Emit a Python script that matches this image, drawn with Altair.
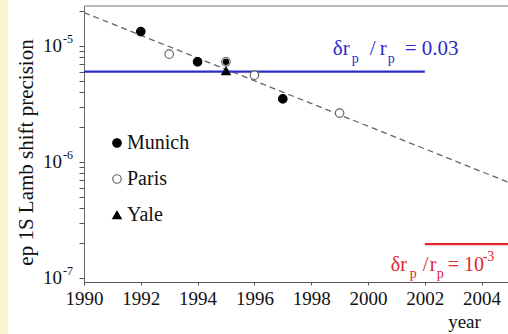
import altair as alt
import pandas as pd

# Lamb shift measurements (year, relative precision)
munich_year = [1992, 1994, 1995, 1997]
munich_prec = [1.33e-5, 7.3e-6, 7.3e-6, 3.5e-6]
paris_year = [1993, 1995, 1996, 1999]
paris_prec = [8.5e-6, 7.3e-6, 5.6e-6, 2.64e-6]
yale_year = [1995]
yale_prec = [6.1e-6]
labs = ["Munich", "Paris", "Yale"]

# dashed trend line
trend_year = [1990, 2005]
trend_prec = [1.94e-5, 6.6e-7]

# proton radius accuracy levels
blue_year = [1990, 2002]
blue_prec = [6.0e-6, 6.0e-6]
red_year = [2002, 2005]
red_prec = [1.96e-7, 1.96e-7]

# annotation anchors (left end of text, baseline)
ann_year = [1998.76, 2000.8]
ann_prec = [8.36e-6, 1.15e-7]

x_ticks = list(range(1990, 2005, 2))
y_ticks = [m * 10.0 ** e for e in (-7, -6) for m in range(1, 10)] + [1e-5, 2e-5]
# decade labels on the y axis: mantissa "10" with a raised exponent
y_label_vals = [1e-5, 1e-6, 1e-7]
y_label_exp = ["-5", "-6", "-7"]

W, H = 424, 276
FONT = "Liberation Serif"
BLUE = "#2c2cc8"
RED = "#e0262f"

xs = alt.Scale(domain=[1990, 2004.93], nice=False, zero=False)
ys = alt.Scale(type="log", domain=[9.25e-8, 2.21e-5], nice=False, zero=False)

x_axis = alt.Axis(
    values=x_ticks, format="d", grid=False, tickSize=3, tickColor="#555",
    domainColor="#555", labelFont=FONT, labelFontSize=19, labelColor="#111",
    labelPadding=4, labelOverlap=False, labelFlush=False,
    title="year", titleFont=FONT, titleFontSize=19,
    titleFontWeight="normal", titleColor="#111", titleX=380, titleY=45,
    titleAlign="center", titleBaseline="alphabetic",
)
y_axis = alt.Axis(
    values=y_ticks, grid=False, tickColor="#555", domainColor="#666", tickSize=5,
    labels=False,
    title="ep 1S Lamb shift precision", titleFont=FONT, titleFontSize=21,
    titleFontWeight="normal", titleColor="#111", titleAngle=270,
    titleX=-52, titleY=146, titleAlign="center", titleBaseline="alphabetic",
)

# yellowish strip at the left edge of the page
strip = alt.Chart(pd.DataFrame({"k": [0]})).mark_rect(color="#fcf4cf", clip=False).encode(
    x=alt.value(-84), x2=alt.value(-76), y=alt.value(-6), y2=alt.value(H + 52)
)
# light frame line along the top of the plot
frame_top = alt.Chart(pd.DataFrame({"k": [0]})).mark_rule(color="#a0a0a0", strokeWidth=1.6).encode(
    x=alt.value(0), x2=alt.value(W), y=alt.value(0)
)

trend = alt.Chart(pd.DataFrame({"year": trend_year, "prec": trend_prec})).mark_line(
    color="#666", strokeDash=[6, 4], strokeWidth=1.3, clip=True
).encode(x=alt.X("year:Q", scale=xs, axis=x_axis), y=alt.Y("prec:Q", scale=ys, axis=y_axis))

blue_line = alt.Chart(pd.DataFrame({"year": blue_year, "prec": blue_prec})).mark_line(
    color=BLUE, strokeWidth=2.2, clip=True
).encode(x=alt.X("year:Q", scale=xs), y=alt.Y("prec:Q", scale=ys))

red_line = alt.Chart(pd.DataFrame({"year": red_year, "prec": red_prec})).mark_line(
    color=RED, strokeWidth=2.2, clip=True
).encode(x=alt.X("year:Q", scale=xs), y=alt.Y("prec:Q", scale=ys))

# y tick labels placed at the left edge of the plot via the y scale
ylab_df = pd.DataFrame({"year": [1990] * len(y_label_vals), "prec": y_label_vals, "exp": y_label_exp})
ylab_mant = alt.Chart(ylab_df).mark_text(
    text="10", align="right", baseline="middle", dx=-22, font=FONT, fontSize=19, color="#111", clip=False
).encode(x=alt.X("year:Q", scale=xs), y=alt.Y("prec:Q", scale=ys))
ylab_exp = alt.Chart(ylab_df).mark_text(
    align="left", baseline="middle", dx=-21, dy=-7, font=FONT, fontSize=12, color="#111", clip=False
).encode(x=alt.X("year:Q", scale=xs), y=alt.Y("prec:Q", scale=ys), text="exp:N")

pts = pd.DataFrame({
    "year": paris_year + munich_year + yale_year,
    "prec": paris_prec + munich_prec + yale_prec,
    "lab": ["Paris"] * len(paris_year) + ["Munich"] * len(munich_year) + ["Yale"] * len(yale_year),
})
leg = alt.Legend(
    title=None, orient="none", legendX=23, legendY=127, labelFont=FONT,
    labelFontSize=20, labelColor="#111", rowPadding=16, labelOffset=0,
    symbolSize=72, symbolStrokeWidth=1.2, padding=0,
)
points = alt.Chart(pts).mark_point(filled=False, strokeWidth=1.2, opacity=1).encode(
    x=alt.X("year:Q", scale=xs),
    y=alt.Y("prec:Q", scale=ys),
    shape=alt.Shape("lab:N", scale=alt.Scale(domain=labs, range=["circle", "circle", "triangle-up"]), legend=leg),
    fill=alt.Fill("lab:N", scale=alt.Scale(domain=labs, range=["#000", "#fff", "#000"]), legend=leg),
    stroke=alt.Stroke("lab:N", scale=alt.Scale(domain=labs, range=["#000", "#666", "#000"]), legend=leg),
    size=alt.condition("datum.lab=='Munich' && datum.year==1995", alt.value(26), alt.value(72)),
)


def label(idx, pieces, color):
    """Build a text label from (text, dx, dy, size) pieces anchored at annotation idx."""
    df = pd.DataFrame({"year": [ann_year[idx]], "prec": [ann_prec[idx]]})
    layers = []
    for txt, dx, dy, size in pieces:
        layers.append(
            alt.Chart(df).mark_text(
                text=txt, align="left", baseline="alphabetic", dx=dx, dy=dy,
                font=FONT, fontSize=size, color=color,
            ).encode(x=alt.X("year:Q", scale=xs), y=alt.Y("prec:Q", scale=ys))
        )
    return layers


blue_text = label(0, [("δr", 0, 0, 21), ("p", 19, 8, 14), ("/", 37, 0, 21), ("r", 47, 0, 21),
                      ("p", 55, 8, 14), ("= 0.03", 72, 0, 21)], BLUE)
red_text = label(1, [("δr", 0, 0, 20), ("p", 19, 7, 14), ("/", 32, 0, 20), ("r", 39, 0, 20),
                     ("p", 46, 7, 14), ("= 10", 57, 0, 20), ("-3", 92, -10, 14)], RED)

chart = alt.layer(
    strip, frame_top, trend, blue_line, red_line, ylab_mant, ylab_exp, points,
    *blue_text, *red_text
).properties(
    width=W, height=H,
    autosize=alt.AutoSizeParams(type="none"),
    padding={"left": 84, "top": 6, "right": 0, "bottom": 52},
    background="white",
).configure(
    font=FONT
).configure_view(stroke=None)

chart.save("out.html", embed_options={"renderer": "svg", "actions": False})
